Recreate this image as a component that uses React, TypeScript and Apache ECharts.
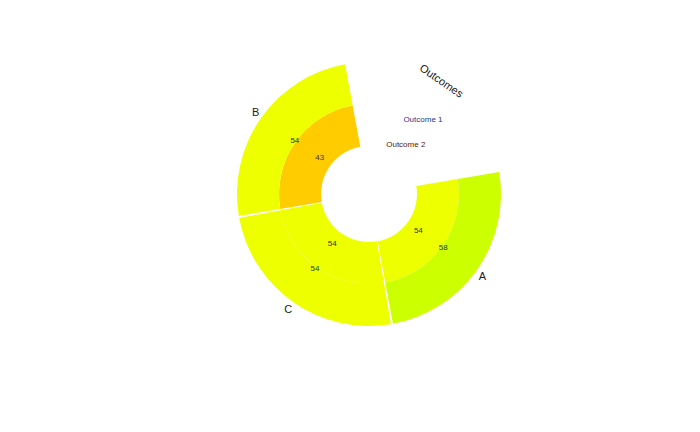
import React, { useEffect, useRef } from "react";
import * as echarts from "echarts";

const categories = ["A", "C", "B", ""];
const outcome2 = [54, 54, 43, null]; // inner ring
const outcome1 = [58, 54, 54, null]; // outer ring
const colorFor = (v: number) => (v <= 45 ? "#ffcc00" : v >= 57 ? "#ccff00" : "#eeff00");

export default function App() {
  const ref = useRef<HTMLDivElement>(null);
  useEffect(() => {
    document.body.style.margin = "0";
    const chart = echarts.init(ref.current!, null, { renderer: "svg" });
    const mk = (name: string, vals: (number | null)[], labelColor: string) => ({
      type: "bar",
      name,
      coordinateSystem: "polar",
      stack: "s",
      barCategoryGap: "1%",
      data: vals.map((v) =>
        v == null
          ? { value: 1, itemStyle: { color: "transparent" }, label: { formatter: name, color: labelColor, fontSize: 8 } }
          : { value: 1, raw: v, itemStyle: { color: colorFor(v) }, label: { formatter: String(v) } }
      ),
      label: { show: true, position: "inside", fontSize: 8, color: "#333" },
    });
    chart.setOption({
      animation: false,
      polar: { center: [369, 194], radius: [48, 132] },
      angleAxis: {
        type: "category",
        data: categories,
        startAngle: 10,
        clockwise: true,
        axisLine: { show: false },
        axisTick: { show: false },
        splitLine: { show: false },
        axisLabel: { fontSize: 11, color: "#222", margin: 2 },
      },
      radiusAxis: { type: "value", min: 0, max: 2, show: false },
      graphic: [
        { type: "text", x: 424, y: 62, rotation: -0.6, style: { text: "Outcomes", fontSize: 11, fill: "#222" } },
      ],
      series: [mk("Outcome 2", outcome2, "#5a1a00"), mk("Outcome 1", outcome1, "#1a3a8a")],
    });
    return () => chart.dispose();
  }, []);
  return <div ref={ref} style={{ width: 700, height: 432 }} />;
}
